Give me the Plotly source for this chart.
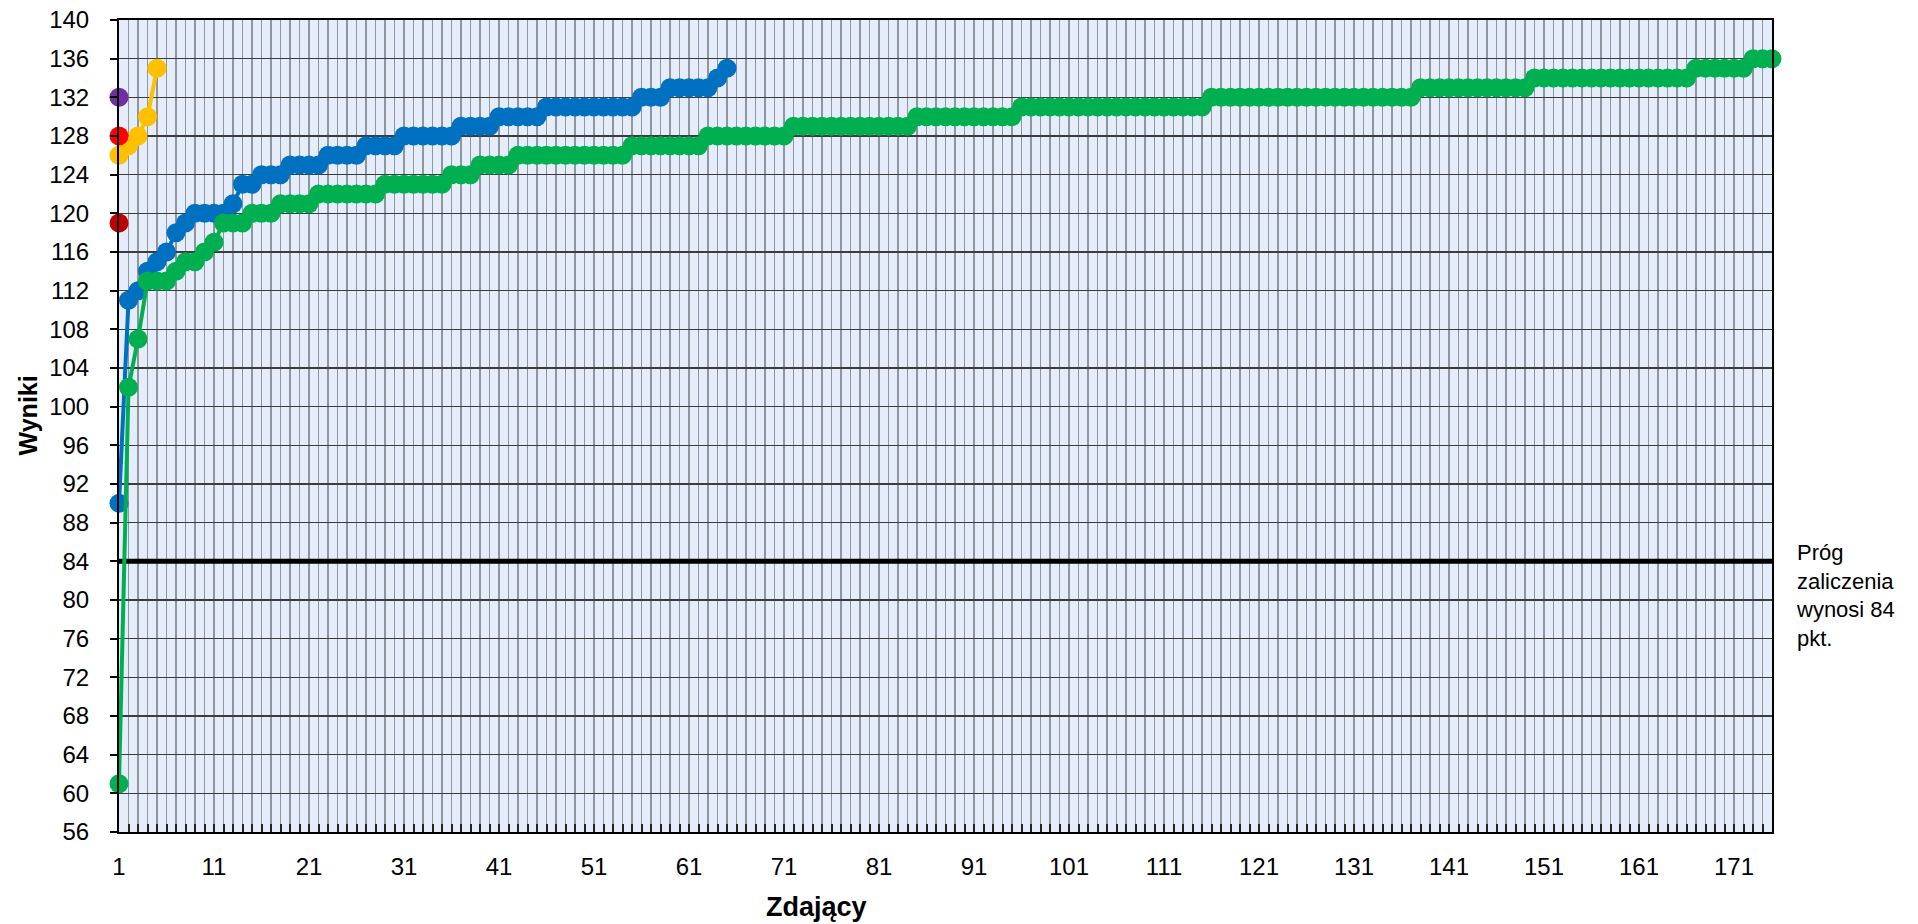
import plotly.graph_objects as go

# ---- data ----
green_vals = [61, 102, 107, 113, 113, 113, 114, 115, 115, 116, 117, 119, 119, 119,
              120, 120, 120, 121, 121, 121, 121,
              122, 122, 122, 122, 122, 122, 122,
              123, 123, 123, 123, 123, 123, 123,
              124, 124, 124,
              125, 125, 125, 125,
              126, 126, 126, 126, 126, 126, 126, 126, 126, 126, 126, 126,
              127, 127, 127, 127, 127, 127, 127, 127,
              128, 128, 128, 128, 128, 128, 128, 128, 128,
              129, 129, 129, 129, 129, 129, 129, 129, 129, 129, 129, 129, 129,
              130, 130, 130, 130, 130, 130, 130, 130, 130, 130, 130,
              131, 131, 131, 131, 131, 131, 131, 131, 131, 131,
              131, 131, 131, 131, 131, 131, 131, 131, 131, 131,
              132, 132, 132, 132, 132, 132, 132, 132, 132, 132, 132,
              132, 132, 132, 132, 132, 132, 132, 132, 132, 132, 132,
              133, 133, 133, 133, 133, 133, 133, 133, 133, 133, 133, 133,
              134, 134, 134, 134, 134, 134, 134, 134, 134, 134, 134, 134, 134, 134, 134, 134, 134,
              135, 135, 135, 135, 135, 135,
              136, 136, 136]

blue_vals = [90, 111, 112, 114, 115, 116, 118, 119, 120, 120, 120, 120, 121,
             123, 123, 124, 124, 124, 125, 125, 125, 125,
             126, 126, 126, 126, 127, 127, 127, 127,
             128, 128, 128, 128, 128, 128, 129, 129, 129, 129,
             130, 130, 130, 130, 130,
             131, 131, 131, 131, 131, 131, 131, 131, 131, 131,
             132, 132, 132, 133, 133, 133, 133, 133, 134, 135]

yellow_vals = [126, 127, 128, 130, 135]
red_vals = [128]
darkred_vals = [119]
purple_vals = [132]

threshold = 84
n_categories = 175

x_tick_vals = [1, 11, 21, 31, 41, 51, 61, 71, 81, 91, 101, 111, 121, 131, 141, 151, 161, 171]
x_tick_text = [str(v) for v in x_tick_vals]
y_tick_vals = [56, 60, 64, 68, 72, 76, 80, 84, 88, 92, 96, 100, 104, 108, 112, 116,
               120, 124, 128, 132, 136, 140]

FONT = "Arial, 'Liberation Sans', sans-serif"


def idx(vals):
    return list(range(1, len(vals) + 1))


fig = go.Figure()

fig.add_trace(go.Scatter(x=[1, n_categories], y=[threshold, threshold], mode="lines",
                         line=dict(color="black", width=5), hoverinfo="skip",
                         showlegend=False))

series = [
    (blue_vals, "#0070c0"),
    (green_vals, "#00b050"),
    (yellow_vals, "#ffc000"),
    (red_vals, "#ff0000"),
    (darkred_vals, "#c00000"),
    (purple_vals, "#7030a0"),
]
for vals, col in series:
    fig.add_trace(go.Scatter(x=idx(vals), y=vals, mode="lines+markers",
                             line=dict(color=col, width=4),
                             marker=dict(color=col, size=19, line=dict(width=0)),
                             cliponaxis=False, showlegend=False))

fig.update_layout(
    width=1918, height=924,
    margin=dict(l=118.5, r=145.7, t=20, b=91.7, autoexpand=False),
    paper_bgcolor="white",
    plot_bgcolor="#e4edf9",
    font=dict(family=FONT, size=24, color="black"),
    showlegend=False,
    hovermode=False,
    xaxis=dict(
        range=[1, n_categories], tickmode="array", tickvals=x_tick_vals, ticktext=x_tick_text,
        showgrid=True, gridcolor="#90969e", gridwidth=1.6,
        ticks="inside", ticklen=8, tickwidth=2, tickcolor="#222222",
        minor=dict(tick0=1, dtick=1, showgrid=True, gridcolor="#90969e", gridwidth=1.6,
                   ticks="inside", ticklen=8, tickwidth=2, tickcolor="#222222"),
        showline=True, linecolor="black", linewidth=2, mirror=True,
        zeroline=False, ticklabelstandoff=12, automargin=False,
        ticklabeloverflow="allow",
        tickfont=dict(size=24),
    ),
    xaxis2=dict(
        overlaying="x", anchor="y", range=[1, n_categories], tick0=1.5, dtick=1,
        showgrid=True, gridcolor="#80b0e4", gridwidth=1.2,
        showticklabels=False, ticks="", showline=False, zeroline=False, automargin=False,
    ),
    yaxis=dict(
        range=[56, 140], tickmode="array", tickvals=y_tick_vals,
        showgrid=True, gridcolor="#3c3c3c", gridwidth=1.5,
        ticks="outside", ticklen=7, tickwidth=2, tickcolor="black",
        showline=True, linecolor="black", linewidth=2, mirror=True,
        zeroline=False, ticklabelstandoff=16, automargin=False,
        ticklabeloverflow="allow",
        tickfont=dict(size=24),
    ),
    annotations=[
        dict(text="<b>Wyniki</b>", xref="paper", yref="paper", x=-0.0553, y=0.5125,
             xanchor="center", yanchor="middle", textangle=-90, showarrow=False,
             font=dict(size=25, family=FONT)),
        dict(text="<b>Zdający</b>", xref="paper", yref="paper", x=0.422, y=-0.0927,
             xanchor="center", yanchor="middle", showarrow=False,
             font=dict(size=27, family=FONT)),
        dict(text="Próg<br>zaliczenia<br>wynosi 84<br>pkt.", xref="paper", yref="y",
             x=1.0131, y=80.5, xanchor="left", yanchor="middle", align="left",
             showarrow=False, font=dict(size=22, family=FONT)),
    ],
)

# remove the browser's default 8px body margin so the figure fills the window exactly
fig.write_html(
    "out.html",
    config={"displayModeBar": False, "staticPlot": True},
    post_script="document.body.style.margin='0';document.body.style.overflow='hidden';",
)
